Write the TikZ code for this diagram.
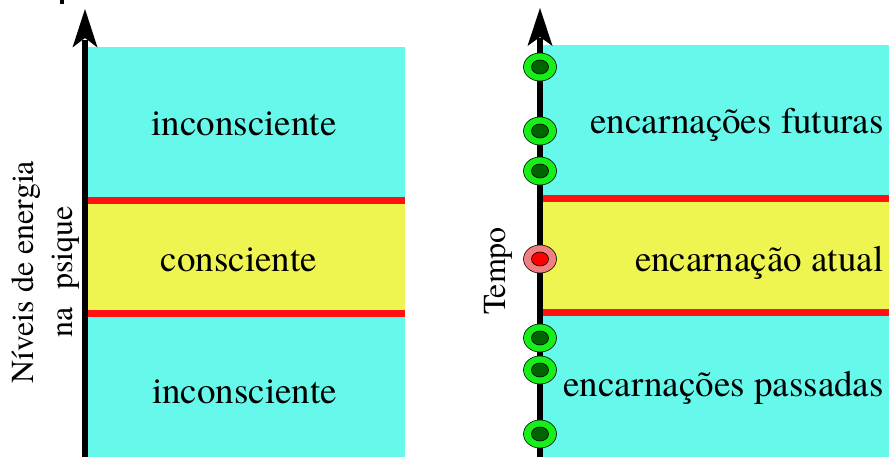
\documentclass[tikz,border=0pt]{standalone}
\usepackage{fontspec}
\setmainfont{TeX Gyre Termes}
\usetikzlibrary{shapes.geometric}
\definecolor{cyanband}{RGB}{102,248,234}
\definecolor{yellowband}{RGB}{238,245,80}
\definecolor{redline}{RGB}{255,18,18}
\definecolor{lightgreen}{RGB}{24,238,24}
\definecolor{darkgreen}{RGB}{0,100,0}
\definecolor{pinkish}{RGB}{240,128,128}
\tikzset{
  axisline/.style={line width=6pt},
  arrowhead/.style={fill=black},
  band/.style={line width=7pt, redline},
  bigtext/.style={font=\fontsize{37}{44}\selectfont, anchor=base, inner sep=0pt},
  vtext/.style={font=\fontsize{32}{38}\selectfont, anchor=base, rotate=90, inner sep=0pt},
  outerdot/.style={ellipse, draw=black, line width=0.6pt, minimum width=33pt, minimum height=28pt, inner sep=0pt},
  innerdot/.style={ellipse, draw=black, line width=0.6pt, minimum width=17pt, minimum height=14pt, inner sep=0pt},
}
\begin{document}
\begin{tikzpicture}[x=1pt,y=-1pt]
\useasboundingbox (0,0) rectangle (889,457);
% small mark at top
\fill (60,0) rectangle (64,4);

% ---------- left panel ----------
\fill[cyanband] (88,47) rectangle (405,457);
\fill[yellowband] (88,200.5) rectangle (405,313.5);
\draw[band] (88,200.5) -- (405,200.5);
\draw[band] (88,313.5) -- (405,313.5);
\coordinate (lbot) at (85,457);
\coordinate (ltop) at (85,40);
\draw[axisline] (lbot) -- (ltop);
\fill[arrowhead] (85,9) -- (97.5,47.5) -- (85,38) -- (72.5,47.5) -- cycle;

\node[bigtext] (inc1) at (244,136) {inconsciente};
\node[bigtext] (cons) at (239,271) {consciente};
\node[bigtext] (inc2) at (244.5,403) {inconsciente};
\node[vtext] (niv) at (33,272) {Níveis de energia};
\node[vtext] (psi) at (72,272) {na\hspace{0.3em} psique};

% ---------- right panel ----------
\fill[cyanband] (543,45) rectangle (889,457);
\fill[yellowband] (543,199) rectangle (889,312);
\draw[band] (543,199) -- (889,199);
\draw[band] (543,312) -- (889,312);
\coordinate (rbot) at (540,457);
\coordinate (rtop) at (540,38);
\draw[axisline] (rbot) -- (rtop);
\fill[arrowhead] (540,8) -- (552.5,46) -- (540,37) -- (527.5,46) -- cycle;

\node[bigtext, anchor=base east] (fut) at (884,134) {encarnações futuras};
\node[bigtext, anchor=base east] (atu) at (883.5,271) {encarnação atual};
\node[bigtext, anchor=base east] (pas) at (884,396.5) {encarnações passadas};
\node[vtext] (tempo) at (505,271) {Tempo};

\foreach \n/\y in {a/67,b/131,c/171,e/338,f/370,g/434}{
  \node[outerdot, fill=lightgreen] (o\n) at (540,\y) {};
  \node[innerdot, fill=darkgreen] (i\n) at (540,\y) {};
}
\node[outerdot, fill=pinkish] (od) at (540,259) {};
\node[innerdot, fill=red] (id) at (540,259) {};
\end{tikzpicture}
\end{document}
